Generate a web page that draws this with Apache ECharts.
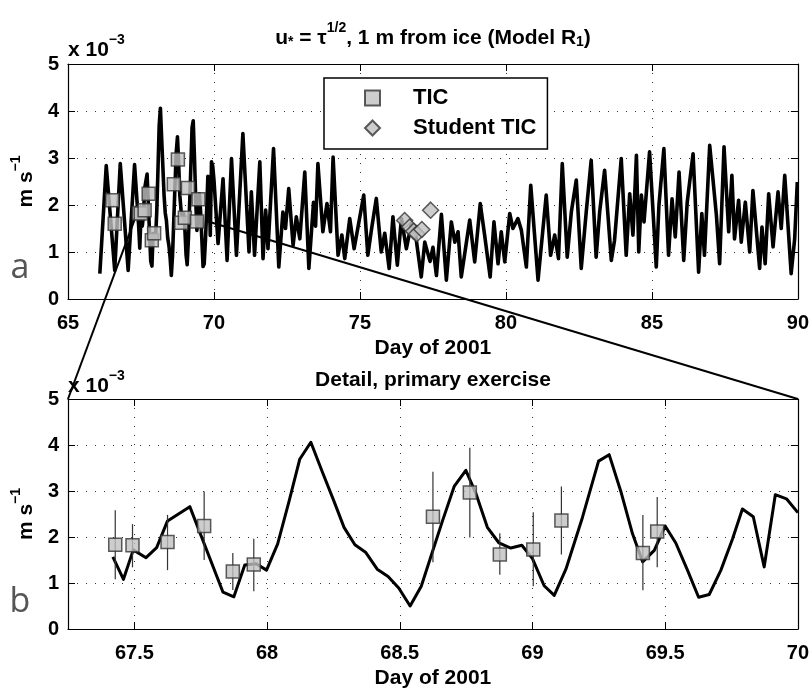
<!DOCTYPE html>
<html><head><meta charset="utf-8">
<script src="https://cdn.jsdelivr.net/npm/echarts@6/dist/echarts.min.js"></script>
<style>html,body{margin:0;padding:0;background:#fff}#c{width:812px;height:690px}</style>
</head><body><div id="c"></div>
<script>
// ---- model u* (x 10^-3 m/s), top panel before detail window ----
const earlyDay = [66.09, 66.31, 66.60, 66.79, 67.06, 67.28];
const earlyVal = [0.54, 2.84, 0.61, 2.88, 0.61, 2.86];
// ---- detail window (panel b) ----
const detailDay = [67.419, 67.459, 67.496, 67.544, 67.584, 67.625, 67.709, 67.834, 67.875, 67.916,
  67.959, 67.998, 68.040, 68.083, 68.123, 68.165, 68.208, 68.252, 68.290, 68.331,
  68.371, 68.415, 68.456, 68.496, 68.539, 68.581, 68.621, 68.661, 68.705, 68.749,
  68.786, 68.830, 68.874, 68.918, 68.960, 69.000, 69.044, 69.082, 69.126, 69.188,
  69.249, 69.289, 69.333, 69.377, 69.415, 69.459, 69.500, 69.540, 69.584, 69.626,
  69.666, 69.710, 69.754, 69.791, 69.832, 69.873, 69.915, 69.957, 70.000];
const detailVal = [1.57, 1.08, 1.72, 1.55, 1.77, 2.35, 2.66, 0.80, 0.70, 1.39,
  1.42, 1.28, 1.85, 2.78, 3.69, 4.06, 3.42, 2.78, 2.21, 1.83,
  1.67, 1.30, 1.14, 0.89, 0.50, 0.93, 1.64, 2.35, 3.10, 3.45,
  2.96, 2.21, 1.87, 1.76, 1.82, 1.53, 0.94, 0.73, 1.30, 2.42,
  3.65, 3.79, 2.99, 2.07, 1.46, 1.71, 2.24, 1.87, 1.28, 0.69,
  0.75, 1.28, 1.96, 2.61, 2.44, 1.35, 2.92, 2.83, 2.53];
// ---- after detail window ----
const lateDay = [70.14, 70.31, 70.45, 70.60, 70.77, 70.99, 71.20, 71.28, 71.39, 71.57,
  71.68, 71.77, 71.85, 72.04, 72.22, 72.36, 72.45, 72.56, 72.71, 72.82,
  72.94, 73.11, 73.25, 73.41, 73.48, 73.56, 73.73, 73.87, 73.99, 74.08,
  74.25, 74.38, 74.48, 74.65, 74.80, 75.13, 75.27, 75.40, 75.56, 75.73,
  75.85, 76.00, 76.13, 76.28, 76.42, 76.59, 76.76, 76.92, 77.10, 77.22,
  77.40, 77.50, 77.62, 77.79, 77.96, 78.13, 78.25, 78.36, 78.47, 78.76,
  78.93, 79.12, 79.27, 79.46, 79.59, 79.73, 79.84, 79.96, 80.13, 80.24,
  80.41, 80.53, 80.70, 80.85, 81.10, 81.38, 81.53, 81.67, 81.80, 81.93,
  82.10, 82.24, 82.41, 82.58, 82.75, 82.92, 83.09, 83.21, 83.38, 83.61,
  83.72, 83.95, 84.12, 84.24, 84.35, 84.47, 84.55, 84.64, 84.73, 84.92,
  85.15, 85.24, 85.41, 85.57, 85.69, 85.80, 85.93, 86.09, 86.21, 86.41,
  86.60, 86.71, 86.80, 86.98, 87.21, 87.32, 87.47, 87.63, 87.74, 87.83,
  87.97, 88.06, 88.20, 88.35, 88.46, 88.69, 88.77, 88.88, 89.00, 89.15,
  89.32, 89.43, 89.55, 89.77, 89.89, 89.98];
const lateVal = [1.18, 2.56, 0.82, 2.99, 0.93, 3.52, 1.00, 2.28, 0.93, 2.92,
  0.86, 1.89, 1.07, 3.20, 0.68, 1.85, 1.50, 2.35, 1.14, 1.75,
  1.28, 2.70, 0.65, 2.06, 1.55, 2.88, 1.43, 2.03, 1.43, 3.02,
  0.93, 1.36, 0.86, 1.71, 1.07, 2.21, 0.93, 1.50, 2.14, 1.00,
  1.40, 0.65, 1.75, 0.72, 1.71, 1.07, 1.60, 1.30, 0.47, 1.21,
  0.80, 1.10, 0.50, 1.80, 0.40, 1.64, 1.21, 1.43, 0.47, 1.68,
  0.79, 2.03, 1.36, 0.47, 1.64, 0.75, 1.43, 0.79, 1.82, 1.50,
  1.71, 1.46, 0.68, 2.42, 0.40, 2.21, 0.93, 1.36, 0.86, 2.88,
  0.89, 1.85, 2.53, 0.65, 1.85, 2.95, 0.89, 1.85, 2.74, 0.82,
  1.25, 2.99, 0.93, 2.24, 1.36, 3.06, 1.00, 2.21, 1.64, 3.13,
  0.68, 1.99, 3.20, 0.93, 2.13, 1.32, 2.70, 0.82, 2.06, 3.09,
  0.57, 1.82, 0.93, 3.27, 1.78, 0.75, 3.24, 1.43, 2.63, 1.28,
  2.10, 1.21, 2.06, 1.00, 2.31, 0.65, 1.53, 0.75, 2.24, 1.11,
  2.28, 1.50, 2.63, 0.54, 1.28, 2.49];
// ---- TIC observations ----
const ticDay  = [66.52, 66.60, 67.428, 67.493, 67.625, 67.763, 67.871, 67.950, 68.625, 68.764, 68.877, 69.003, 69.109, 69.416, 69.470];
const ticVal  = [2.10, 1.60, 1.83, 1.82, 1.89, 2.24, 1.25, 1.40, 2.44, 2.97, 1.62, 1.73, 2.36, 1.65, 2.12];
const ticLow  = [null, null, 1.08, 1.34, 1.28, 1.50, 0.85, 0.82, 1.45, 1.99, 1.18, 0.93, 1.62, 0.84, 1.34];
const ticHigh = [null, null, 2.58, 2.28, 2.48, 2.99, 1.65, 1.96, 3.42, 3.94, 2.08, 2.54, 3.10, 2.48, 2.87];
// ---- Student TIC ----
const studDay = [76.53, 76.70, 76.84, 76.95, 77.12, 77.42];
const studVal = [1.67, 1.53, 1.44, 1.39, 1.48, 1.89];
// ---- axes ----
const topXTicks = [65, 70, 75, 80, 85, 90];
const yTicks = [0, 1, 2, 3, 4, 5];
// zoom connector anchors (data coords): [top-panel point, bottom-panel corner]
const zoomLeft = [[67.30, 1.72], [67.25, 5]];
const zoomRight = [[69.80, 1.65], [70, 5]];

const pair = (xs, ys) => xs.map((x, i) => [x, ys[i]]);
const topModel = pair(earlyDay.concat(detailDay, lateDay), earlyVal.concat(detailVal, lateVal));
const detailModel = pair(detailDay, detailVal);
const ticPts = pair(ticDay, ticVal);
const studPts = pair(studDay, studVal);
const errRows = ticDay.map((d, i) => [d, ticLow[i], ticHigh[i]]).filter(r => r[1] != null);

const FONT = '"Liberation Sans", Arial, Helvetica, sans-serif';
const K = '#000';
const rich = {
  n: {fontFamily: FONT, fontWeight: 'bold', fontSize: 21, lineHeight: 28, verticalAlign: 'bottom', color: K},
  sup: {fontFamily: FONT, fontWeight: 'bold', fontSize: 14, lineHeight: 14, verticalAlign: 'top', color: K},
  sub: {fontFamily: FONT, fontWeight: 'bold', fontSize: 14, lineHeight: 17, verticalAlign: 'bottom', color: K}
};
const tickLabel = {fontFamily: FONT, fontWeight: 'bold', fontSize: 20, color: K};
const gridLine = {show: true, lineStyle: {color: '#333', type: [1, 8], width: 1}};
const axLine = {show: true, onZero: false, lineStyle: {color: K, width: 1.2}};
const axTick = {show: true, inside: true, length: 7, lineStyle: {color: K, width: 1}};
const markStyle = {color: '#c0c0c0', borderColor: '#333', borderWidth: 1.5};

function xAxis(grid, min, max, interval, primary) {
  const a = {type: 'value', gridIndex: grid, min: min, max: max, position: primary ? 'bottom' : 'top',
    axisLine: axLine, axisTick: axTick,
    axisLabel: {show: primary, margin: 14, showMinLabel: interval != null, ...tickLabel},
    splitLine: primary ? gridLine : {show: false}};
  if (interval != null) a.interval = interval; else a.splitNumber = 5;
  if (primary) {
    a.name = 'Day of 2001'; a.nameLocation = 'middle'; a.nameGap = 39;
    a.nameTextStyle = {fontFamily: FONT, fontWeight: 'bold', fontSize: 21, color: K};
  }
  return a;
}
function yAxis(grid, primary) {
  const a = {type: 'value', gridIndex: grid, min: yTicks[0], max: yTicks[yTicks.length - 1], interval: yTicks[1] - yTicks[0],
    position: primary ? 'left' : 'right', axisLine: axLine, axisTick: axTick,
    axisLabel: {show: primary, margin: 9, ...tickLabel},
    splitLine: primary ? gridLine : {show: false}};
  if (primary) {
    a.name = '{n|m s}{sup|\u22121}'; a.nameLocation = 'middle'; a.nameGap = 25; a.nameRotate = 90;
    a.nameTextStyle = {rich: rich};
  }
  return a;
}

const chart = echarts.init(document.getElementById('c'));
chart.setOption({
  animation: false,
  backgroundColor: '#fff',
  grid: [
    {left: 68, top: 64, width: 730, height: 235},
    {left: 68, top: 399, width: 730, height: 234}
  ],
  xAxis: [
    xAxis(0, topXTicks[0], topXTicks[topXTicks.length - 1], topXTicks[1] - topXTicks[0], true),
    xAxis(0, topXTicks[0], topXTicks[topXTicks.length - 1], topXTicks[1] - topXTicks[0], false),
    xAxis(1, 67.25, 70, null, true),
    xAxis(1, 67.25, 70, null, false)
  ],
  yAxis: [yAxis(0, true), yAxis(0, false), yAxis(1, true), yAxis(1, false)],
  legend: {
    left: 324, top: 78, orient: 'vertical', data: ['TIC', 'Student TIC'],
    itemWidth: 15, itemHeight: 15, itemGap: 8,
    padding: [9, 11, 10, 40], borderColor: K, borderWidth: 1.5, backgroundColor: '#fff',
    textStyle: {fontFamily: FONT, fontWeight: 'bold', fontSize: 22, color: K, padding: [0, 0, 0, 28]},
    selectedMode: false
  },
  series: [
    {type: 'line', name: 'model', xAxisIndex: 0, yAxisIndex: 0, data: topModel, showSymbol: false,
      lineStyle: {color: K, width: 3.6, join: 'round'}, z: 2, silent: true},
    {type: 'scatter', name: 'TIC', xAxisIndex: 0, yAxisIndex: 0, data: ticPts, symbol: 'rect', symbolSize: 13,
      itemStyle: markStyle, z: 5},
    {type: 'scatter', name: 'Student TIC', xAxisIndex: 0, yAxisIndex: 0, data: studPts, symbol: 'diamond', symbolSize: 16,
      itemStyle: markStyle, z: 5},
    {type: 'line', name: 'detail', xAxisIndex: 2, yAxisIndex: 2, data: detailModel, showSymbol: false,
      lineStyle: {color: K, width: 3, join: 'round'}, z: 2, silent: true},
    {type: 'custom', name: 'err', xAxisIndex: 2, yAxisIndex: 2, data: errRows, z: 3, silent: true,
      renderItem: function (params, api) {
        const p1 = api.coord([api.value(0), api.value(1)]);
        const p2 = api.coord([api.value(0), api.value(2)]);
        return {type: 'line', shape: {x1: p1[0], y1: p1[1], x2: p2[0], y2: p2[1]},
          style: {stroke: '#333', lineWidth: 1.2}};
      }},
    {type: 'scatter', name: 'TIC', xAxisIndex: 2, yAxisIndex: 2, data: ticPts, symbol: 'rect', symbolSize: 13,
      itemStyle: markStyle, z: 5}
  ]
});

const L1a = chart.convertToPixel({gridIndex: 0}, zoomLeft[0]);
const L1b = chart.convertToPixel({gridIndex: 1}, zoomLeft[1]);
const L2a = chart.convertToPixel({gridIndex: 0}, zoomRight[0]);
const L2b = chart.convertToPixel({gridIndex: 1}, zoomRight[1]);
const gx = (68 + 798) / 2;
chart.setOption({
  graphic: [
    {type: 'line', z: 1, shape: {x1: L1a[0], y1: L1a[1], x2: L1b[0], y2: L1b[1]}, style: {stroke: K, lineWidth: 2}},
    {type: 'line', z: 1, shape: {x1: L2a[0], y1: L2a[1], x2: L2b[0], y2: L2b[1]}, style: {stroke: K, lineWidth: 2}},
    {type: 'text', x: gx, y: 35, z: 10, style: {text: '{n|u}{sub|*}{n| = \u03c4}{sup|1/2}{n|, 1 m from ice (Model R}{sub|1}{n|)}',
      rich: rich, textAlign: 'center', textVerticalAlign: 'middle'}},
    {type: 'text', x: gx, y: 377, z: 10, style: {text: '{n|Detail, primary exercise}', rich: rich, textAlign: 'center', textVerticalAlign: 'middle'}},
    {type: 'text', x: 68, y: 47, z: 10, style: {text: '{n|x 10}{sup|\u22123}', rich: rich, textAlign: 'left', textVerticalAlign: 'middle'}},
    {type: 'text', x: 68, y: 383, z: 10, style: {text: '{n|x 10}{sup|\u22123}', rich: rich, textAlign: 'left', textVerticalAlign: 'middle'}},
    {type: 'text', x: 20, y: 268, z: 10, style: {text: 'a', font: 'normal 34px "Open Sans", Lato, sans-serif', fill: '#555', textAlign: 'center', textVerticalAlign: 'middle'}},
    {type: 'text', x: 20, y: 602, z: 10, style: {text: 'b', font: 'normal 34px "Open Sans", Lato, sans-serif', fill: '#555', textAlign: 'center', textVerticalAlign: 'middle'}}
  ]
});
</script>
</body></html>
